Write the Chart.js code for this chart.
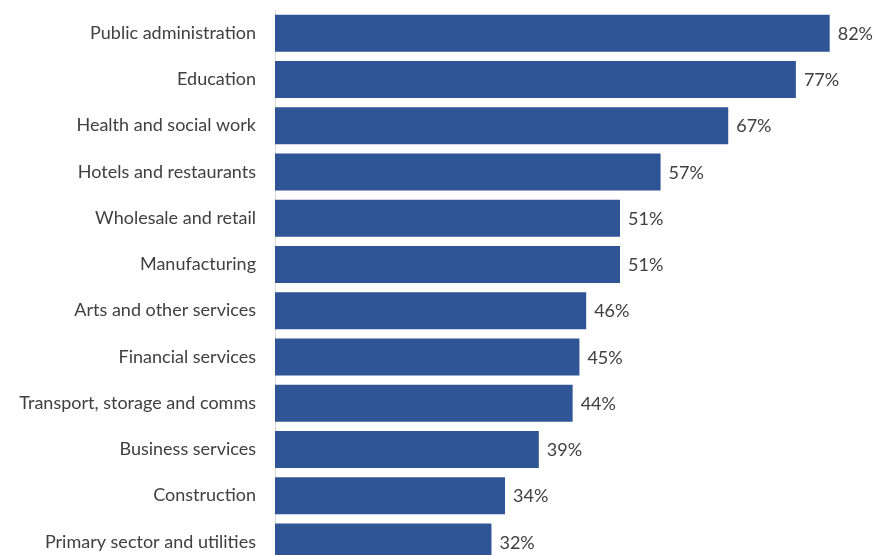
<!DOCTYPE html>
<html>
<head>
<meta charset="utf-8">
<script src="https://cdn.jsdelivr.net/npm/chart.js@4/dist/chart.umd.min.js"></script>
<style>
  html,body{margin:0;padding:0;background:#fff;overflow:hidden;}
  canvas{display:block;}
</style>
</head>
<body>
<canvas id="chart" width="874" height="570"></canvas>
<script>
// Sectors and shares (%)
const sectors=["Public administration","Education","Health and social work","Hotels and restaurants","Wholesale and retail","Manufacturing","Arts and other services","Financial services","Transport, storage and comms","Business services","Construction","Primary sector and utilities"];
const shares=[82,77,67,57,51,51,46,45,44,39,34,32];

const barColor="#2F5597";
const textColor="#404040";
const labelFont={family:"Lato",size:18};

// value labels at the end of each bar
const endLabels={
  id:"endLabels",
  afterDatasetsDraw(chart){
    const ctx=chart.ctx;
    const meta=chart.getDatasetMeta(0);
    ctx.save();
    ctx.font="18px Lato";
    ctx.fillStyle=textColor;
    ctx.textAlign="left";
    ctx.textBaseline="middle";
    meta.data.forEach((bar,i)=>{ctx.fillText(shares[i]+"%",bar.x+8,bar.y+1);});
    ctx.restore();
  }
};

new Chart(document.getElementById("chart"),{
  type:"bar",
  data:{labels:sectors,datasets:[{data:shares,backgroundColor:barColor,barPercentage:0.8,categoryPercentage:1}]},
  options:{
    indexAxis:"y",
    responsive:false,
    animation:false,
    layout:{padding:{top:10,right:24,bottom:5,left:0}},
    plugins:{legend:{display:false},tooltip:{enabled:false}},
    scales:{
      x:{min:0,max:85,display:false},
      y:{
        grid:{display:false,drawTicks:false},
        border:{display:true,color:"#d9d9d9",width:1},
        ticks:{color:textColor,font:labelFont,padding:19},
        afterFit(scale){
          // fixed gutter for the labels, no extra vertical padding
          scale.width=275;
          scale.paddingTop=0;
          scale.paddingBottom=0;
        }
      }
    }
  },
  plugins:[endLabels]
});
</script>
</body>
</html>
